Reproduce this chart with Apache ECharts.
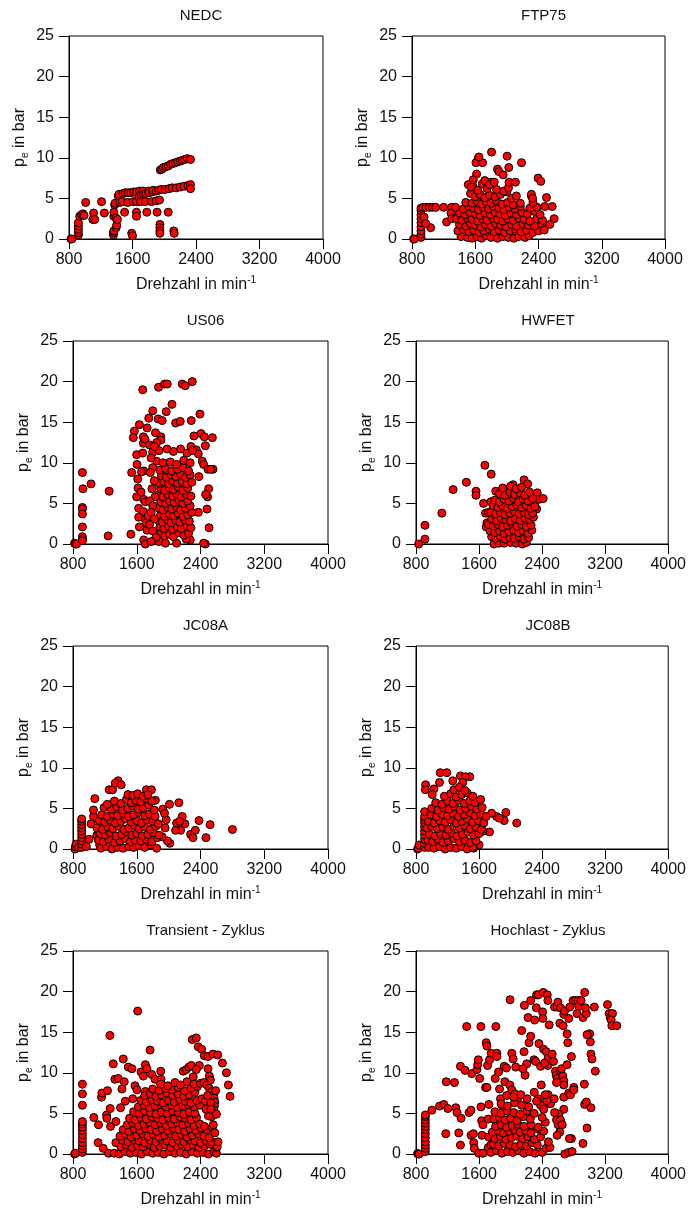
<!DOCTYPE html>
<html>
<head>
<meta charset="utf-8">
<script src="https://cdn.jsdelivr.net/npm/echarts@6/dist/echarts.min.js"></script>
<style>
  html, body { margin: 0; padding: 0; background: #fff; }
  #main { width: 689px; height: 1209px; }
</style>
</head>
<body>
<div id="main"></div>
<script>
// Achsen
var xTicks = [800, 1600, 2400, 3200, 4000];
var yTicks = [0, 5, 10, 15, 20, 25];
var titles = ['NEDC', 'FTP75', 'US06', 'HWFET', 'JC08A', 'JC08B', 'Transient - Zyklus', 'Hochlast - Zyklus'];

// Betriebspunkte [Drehzahl, pe]
var nedc = [
  [825,0],[835,0],[918,0.5],[918,0.8],[918,1.2],[918,1.6],[918,2.0],[935,2.8],[960,3.0],[975,3.1],[990,2.9],[1010,4.5],
  [1100,2.4],[1110,3.2],[1125,2.4],[1210,4.6],[1245,3.2],[1360,0.5],[1360,0.8],[1365,1.0],[1365,2.8],[1365,3.3],[1375,4.2],
  [1380,4.4],[1390,2.6],[1395,1.4],[1400,1.7],[1410,2.4],[1420,5.3],[1430,5.5],[1440,4.5],[1470,4.6],[1480,5.6],[1500,3.3],
  [1510,5.7],[1540,4.5],[1545,5.7],[1580,5.7],[1590,0.7],[1600,0.4],[1610,4.6],[1615,5.8],[1650,3.3],[1650,2.8],[1650,4.6],
  [1650,5.8],[1680,5.2],[1690,5.9],[1700,4.6],[1710,5.4],[1730,5.9],[1740,5.5],[1760,4.6],[1780,3.3],[1770,5.6],[1800,5.9],
  [1810,5.7],[1840,4.6],[1850,5.8],[1860,6.0],[1900,4.7],[1900,5.9],[1910,3.3],[1930,6.0],[1940,4.8],[1945,1.8],[1945,1.4],
  [1945,1.0],[1945,0.7],[1950,8.5],[1960,6.1],[1970,8.6],[1990,8.8],[2010,6.1],[2020,8.9],[2050,3.3],[2050,9.0],[2060,6.2],
  [2080,9.2],[2100,6.3],[2120,1.0],[2125,0.7],[2110,9.3],[2140,9.4],[2150,6.3],[2170,9.5],[2200,6.4],[2200,9.6],[2230,9.7],
  [2250,6.5],[2260,9.8],[2290,9.9],[2300,6.6],[2330,6.7],[2330,6.2],[2330,9.8]
];

var ftp75 = [
  [820,0],[830,0],[914,0.2],[914,0.6],[914,1.0],[914,1.5],[914,2.0],[914,2.5],[914,3.0],[914,3.5],[914,3.8],
  [940,3.9],[980,3.9],[1020,3.9],[1060,3.9],[1100,3.9],[1200,3.9],[1300,3.9],[1036,1.4],[952,2.7],[973,1.9],
  [1238,2.1],[1293,3.2],[1301,2.5],
  [1420,0.3],[1500,0.2],[1560,0.1],[1620,0.3],[1680,0.1],[1740,0.4],[1800,0.2],[1880,0.1],[1950,0.3],[2020,0.2],[2090,0.1],[2150,0.3],[2230,0.2],[2280,0.4],
  [1380,1.0],[1450,1.2],[1520,0.9],[1580,1.1],[1650,0.8],[1710,1.0],[1780,1.2],[1840,0.9],[1900,1.1],[1970,0.8],[2040,1.0],[2110,1.2],[2180,0.9],[2250,1.1],[2330,0.8],[2400,1.0],
  [1400,1.8],[1480,1.6],[1540,1.9],[1600,1.7],[1670,1.5],[1730,1.8],[1800,1.6],[1860,1.9],[1920,1.7],[1990,1.5],[2060,1.8],[2120,1.6],[2200,1.9],[2270,1.7],[2350,1.6],[2440,1.8],
  [1360,2.5],[1430,2.3],[1500,2.6],[1560,2.4],[1630,2.2],[1690,2.5],[1750,2.3],[1820,2.6],[1880,2.4],[1950,2.2],[2010,2.5],[2080,2.3],[2150,2.6],[2220,2.4],[2290,2.2],[2380,2.5],[2450,2.3],
  [1400,3.2],[1470,3.0],[1530,3.3],[1600,3.1],[1660,2.9],[1720,3.2],[1790,3.0],[1850,3.3],[1910,3.1],[1980,2.9],[2050,3.2],[2120,3.0],[2190,3.3],[2260,3.1],[2350,3.4],[2420,3.0],
  [1350,3.9],[1450,3.7],[1520,4.0],[1580,3.8],[1640,3.6],[1700,3.9],[1770,3.7],[1830,4.0],[1900,3.8],[1960,3.6],[2030,3.9],[2100,3.7],[2170,4.0],[2290,3.8],[2380,3.9],[2480,4.0],
  [1480,4.5],[1560,4.4],[1620,4.7],[1680,4.3],[1740,4.6],[1800,4.4],[1870,4.7],[1940,4.3],[2010,4.5],[2080,4.2],[2170,4.4],[2330,4.5],
  [1540,5.6],[1600,5.2],[1660,5.5],[1720,5.1],[1780,5.4],[1850,5.2],[1920,5.5],[2000,5.8],[2060,5.0],[2120,5.3],[2310,5.3],
  [1570,6.5],[1630,6.0],[1690,6.8],[1750,6.2],[1800,7.0],[1870,6.1],[1960,5.9],[2020,6.3],[1720,7.2],[1780,6.7],[1840,7.0],
  [1638,9.9],[1609,9.4],[1693,9.4],[1646,10.1],[1806,10.7],[1882,8.6],[1899,8.3],[1953,7.9],[2003,10.2],[2024,8.8],[2028,7.0],
  [2108,7.0],[2185,9.4],[2395,7.5],[2429,7.1],[2311,5.5],[2325,5.0],[2501,5.1],[2573,4.0],[2598,2.5],[2543,1.8],[2472,1.1],
  [1617,8.0],[1575,7.3],[1512,6.7],[1550,6.4]
];

var us06 = [
  [820,0.1],[830,0],[845,0],[918,8.8],[925,6.8],[918,4.5],[918,4.3],[918,3.7],[918,2.1],[918,0.9],[918,0.6],[918,0.4],
  [1027,7.4],[1254,6.5],[1241,1.0],[1527,1.2],
  [1675,19.0],[1873,19.3],[1948,19.7],[1982,19.7],[2171,19.7],[2209,19.5],[2297,20.0],[1801,16.4],[1751,15.5],[1869,15.4],
  [1919,15.2],[1970,16.3],[2042,17.2],[2088,14.9],[2146,15.1],[2284,15.2],[2393,16.0],[1633,14.7],[1570,13.9],[1557,13.1],
  [1683,13.2],[1730,14.3],[1835,13.7],[1903,13.2],[1903,12.8],[2318,13.3],[2406,13.6],[2448,13.2],[2461,12.1],[2549,13.1],
  [2280,12.0],[2347,11.6],[2372,11.1],
  [2422,10.2],[2439,9.8],[2494,9.2],[2557,9.2],[2530,9.2],[2380,8.3],[2502,6.8],[2489,5.8],[2465,6.1],[2481,4.3],[2372,3.9],
  [2507,2.0],[2461,0],[2439,0.1],[2271,0.5],[2212,0.9],
  [1599,11.0],[1603,9.8],[1536,8.8],[1612,8.0],[1616,6.9],[1599,5.8],[1624,4.4],[1624,3.3],[1633,2.1],[1675,11.2],[1683,12.4],
  [1704,12.9],[1687,9.0],[1660,8.9],[1654,6.4],[1687,5.5],[1708,5.2],[1683,4.0],[1708,3.0],[1687,0.5],[1708,0],[1729,1.7],
  [1720,2.6],[1742,3.5],
  [1880,0.3],[1960,0.1],[2100,0.1],[2220,0.6],
  [1900,1.3],[1950,1.0],[2010,1.2],[2060,0.9],[2130,1.4],[2190,1.1],[2250,1.3],
  [1890,2.1],[1940,1.9],[2000,2.2],[2050,1.8],[2110,2.1],[2160,1.9],[2230,2.2],[2280,2.0],
  [1870,2.9],[1920,2.7],[1980,3.0],[2030,2.6],[2090,2.9],[2140,2.7],[2200,3.0],[2260,2.8],
  [1900,3.6],[1950,3.4],[2010,3.7],[2060,3.5],[2120,3.8],[2180,3.4],[2240,3.6],[2290,3.9],
  [1880,4.4],[1930,4.2],[1990,4.5],[2040,4.3],[2100,4.6],[2150,4.2],[2210,4.4],[2270,4.7],
  [1900,5.2],[1960,5.0],[2010,5.3],[2070,5.1],[2130,5.4],[2180,5.0],[2240,5.3],
  [1870,6.0],[1930,5.8],[1990,6.1],[2050,5.9],[2100,6.2],[2160,5.8],[2220,6.1],[2280,5.9],
  [1900,6.8],[1950,6.6],[2010,6.9],[2060,6.7],[2120,7.0],[2180,6.6],[2240,6.9],
  [1880,7.5],[1940,7.7],[2000,7.4],[2050,7.8],[2110,7.5],[2170,7.7],[2230,7.4],[2290,7.6],
  [1910,8.4],[1970,8.2],[2030,8.5],[2090,8.3],[2150,8.6],[2210,8.2],[2270,8.5],
  [1890,9.1],[1960,9.3],[2040,9.0],[2110,9.2],[2180,9.4],[2250,9.0],
  [1850,10.2],[1930,10.0],[2020,10.1],[2100,9.8],[2190,10.3],[2270,10.0],
  [1800,11.3],[1880,11.5],[1980,11.7],[2060,11.4],[2150,11.7],[2230,11.2],[2300,11.5],
  [1760,12.2],[1780,10.6],[1800,9.4],[1770,8.8],[1820,7.8],[1790,6.8],[1830,5.8],[1760,5.3],[1800,4.7],[1780,3.9],[1820,3.1],
  [1760,2.4],[1800,1.6],[1840,0.8],[1780,0.3],[1850,12.5],[1820,12.0]
];

var hwfet = [
  [834,0],[914,0.6],[914,2.3],[1128,3.8],[1271,6.7],[1439,7.6],[1561,6.5],[1561,6.0],[1674,9.7],[1754,8.6],[1657,5.0],
  [1683,3.8],[1700,2.6],[1691,2.1],[1720,3.9],[1812,6.5],[1750,5.2],
  [2339,6.3],[2360,5.5],[2414,5.6],[2331,4.3],[2171,7.9],[2217,7.4],[2032,7.3],
  [1790,0.0],[1850,0.1],[1920,0.1],[2000,0.2],[2070,0.1],[2150,0.0],[2200,0.2],
  [1760,0.9],[1810,0.7],[1870,0.9],[1930,0.6],[1990,0.8],[2050,0.7],[2110,0.9],[2170,0.6],[2230,0.8],
  [1740,1.6],[1800,1.4],[1860,1.6],[1920,1.3],[1980,1.5],[2040,1.7],[2100,1.4],[2160,1.6],[2220,1.3],[2270,1.7],
  [1720,2.4],[1780,2.2],[1840,2.4],[1900,2.1],[1960,2.3],[2020,2.5],[2080,2.2],[2140,2.4],[2200,2.1],[2260,2.3],
  [1760,3.1],[1820,2.9],[1880,3.2],[1940,3.0],[2000,2.8],[2060,3.1],[2120,2.9],[2180,3.2],[2240,3.0],[2290,3.3],
  [1750,3.9],[1810,3.7],[1870,3.9],[1930,3.6],[1990,3.8],[2050,4.0],[2110,3.7],[2170,3.9],[2230,3.6],[2280,3.8],
  [1780,4.7],[1840,4.5],[1900,4.7],[1960,4.4],[2020,4.6],[2080,4.8],[2140,4.5],[2200,4.7],[2260,4.4],[2310,4.6],
  [1800,5.4],[1860,5.2],[1920,5.5],[1980,5.3],[2040,5.6],[2100,5.2],[2160,5.5],[2220,5.3],[2280,5.6],
  [1860,6.2],[1930,6.0],[1990,6.4],[2050,6.1],[2120,6.3],[2180,6.0],[2240,6.4],
  [1900,6.9],[2000,7.1],[2070,6.8],[2140,7.0]
];

var jc08a = [
  [825,0],[830,0.3],[840,0.6],[870,0.2],
  [909,0.2],[909,0.6],[909,1.0],[909,1.4],[909,1.8],[909,2.2],[909,2.6],[909,3.0],[909,3.4],[909,3.7],
  [968,0.3],[1002,1.2],[1027,3.1],[1057,4.0],[1074,6.2],[1057,4.8],[1099,1.7],[1128,2.0],[1120,1.1],[1149,0.3],[1135,0.5],
  [1254,7.3],[1296,7.3],[1367,8.4],[1330,8.1],[1405,7.9],[1721,7.3],[1784,7.3],[1834,6.0],[1927,4.9],[2011,5.5],[2129,5.7],
  [2171,4.0],[2204,3.1],[2150,2.3],[2087,2.3],[2276,1.8],[2305,1.4],[2335,2.3],[2381,3.5],[2469,1.4],[2520,3.0],[2801,2.4],
  [2015,0.7],[1985,1.0],[1918,1.5],[1956,2.6],[1969,3.6],[1948,4.4],[2100,3.2],[2137,3.4],
  [1150,0.1],[1220,0.3],[1290,0.0],[1360,0.2],[1430,0.1],[1500,0.3],[1560,0.2],[1630,0.4],[1700,0.2],[1780,0.5],[1850,0.1],
  [1120,1.1],[1180,0.9],[1250,1.2],[1320,0.8],[1390,1.0],[1450,1.3],[1520,0.9],[1580,1.1],[1650,1.0],[1720,1.2],[1790,0.9],[1860,1.4],
  [1140,1.9],[1210,1.7],[1270,2.0],[1340,1.6],[1410,1.8],[1470,2.1],[1540,1.7],[1600,1.9],[1670,1.6],[1740,1.8],[1810,2.0],[1880,1.7],
  [1100,2.6],[1170,2.4],[1240,2.7],[1300,2.5],[1370,2.8],[1440,2.4],[1500,2.6],[1570,2.9],[1630,2.5],[1700,2.7],[1770,2.4],[1840,2.8],
  [1130,3.5],[1200,3.3],[1260,3.6],[1330,3.2],[1400,3.4],[1460,3.7],[1530,3.3],[1600,3.5],[1660,3.2],[1730,3.6],[1800,3.4],[1870,3.1],
  [1160,4.2],[1230,4.0],[1300,4.3],[1360,4.1],[1430,4.4],[1500,4.0],[1560,4.2],[1630,4.5],[1700,4.1],[1760,4.3],[1830,4.0],
  [1190,5.1],[1280,4.9],[1350,5.2],[1420,4.8],[1490,5.0],[1550,5.3],[1620,4.9],[1680,5.1],[1750,5.4],[1820,4.8],
  [1230,5.5],[1320,5.9],[1400,5.6],[1470,6.1],[1530,5.7],[1590,6.0],[1650,5.8],[1720,6.2],[1790,5.9],
  [1490,6.7],[1550,6.6],[1610,6.8],[1680,6.5],[1740,6.7]
];

var jc08b = [
  [820,0],[830,0.1],[840,0.5],
  [909,0.2],[909,0.7],[909,1.2],[909,1.7],[909,2.2],[909,2.7],[909,3.2],[909,3.6],[909,4.0],[909,4.6],
  [922,7.9],[918,7.3],[1027,7.4],[1006,6.7],[1107,9.4],[1191,9.4],[1099,8.2],[1267,8.4],[1364,9.0],[1482,8.9],[1427,8.9],[1394,8.2],
  [1940,4.5],[1919,3.5],[2078,3.2],[1733,2.1],[1822,4.0],[1856,3.8],[1759,4.4],[1649,2.2],[1582,0.4],[1600,0.5],[1531,0.1],
  [960,0.2],[1030,0.1],[1100,0.3],[1170,0.0],[1240,0.2],[1310,0.1],[1380,0.3],[1450,0.0],[1520,0.2],
  [950,1.1],[1010,0.9],[1080,1.2],[1140,0.8],[1210,1.0],[1280,1.3],[1350,0.9],[1420,1.1],[1490,0.8],[1560,1.0],
  [970,1.8],[1040,1.6],[1110,1.9],[1180,1.7],[1250,2.0],[1320,1.6],[1390,1.8],[1460,2.1],[1530,1.7],[1600,1.9],
  [940,2.6],[1000,2.8],[1070,2.5],[1140,2.7],[1210,2.4],[1280,2.8],[1350,2.6],[1420,2.9],[1490,2.5],[1560,2.7],[1630,2.4],
  [960,3.4],[1030,3.2],[1100,3.5],[1170,3.3],[1240,3.6],[1310,3.2],[1380,3.4],[1450,3.7],[1520,3.3],[1590,3.5],[1660,3.2],
  [990,4.2],[1060,4.0],[1130,4.3],[1200,4.1],[1270,4.4],[1340,4.0],[1410,4.2],[1480,4.5],[1550,4.1],[1620,4.3],[1690,4.0],
  [1000,5.0],[1080,4.8],[1150,5.1],[1220,4.9],[1290,5.2],[1360,4.8],[1430,5.0],[1500,5.3],[1570,4.9],[1640,5.1],
  [1050,5.7],[1130,5.5],[1200,5.9],[1270,5.6],[1340,6.0],[1410,5.6],[1480,5.9],[1550,5.7],[1620,6.1],
  [1160,6.5],[1240,6.8],[1310,6.4],[1380,6.7],[1450,6.9],[1520,6.5],
  [1280,7.3],[1350,7.6],[1420,7.2]
];

var transient = [
  [820,0],[830,0.1],
  [918,0.2],[918,0.6],[918,1.0],[918,1.4],[918,1.9],[918,2.4],[918,2.9],[918,3.3],[918,3.7],[918,4.0],[918,6.0],[918,7.4],[918,8.6],
  [1061,4.5],[1120,3.6],[1115,1.4],[1158,7.0],[1162,7.5],[1179,0.7],[1233,7.8],[1221,4.8],[1225,4.4],[1263,14.6],[1267,5.6],
  [1271,3.4],[1246,0.1],[1305,11.1],[1326,9.2],[1368,9.3],[1338,4.0],[1338,1.4],[1317,0.1],[1397,5.7],[1414,8.0],[1431,11.7],
  [1443,8.9],[1456,6.5],[1494,10.7],[1540,10.5],[1549,6.8],[1578,8.4],[1603,7.9],[1612,17.6],[1654,10.1],[1683,9.6],[1708,11.0],
  [1729,10.5],[1708,7.7],[1767,12.8],[1788,9.8],[1830,9.2],[1901,10.2],[1905,9.2],
  [2183,10.2],[2221,10.4],[2255,10.7],[2284,10.9],[2297,14.1],[2347,14.3],[2309,9.5],[2372,13.2],[2414,12.9],[2385,10.9],
  [2347,10.4],[2448,12.1],[2494,12.0],[2557,12.3],[2616,12.2],[2675,11.2],[2725,10.0],[2750,8.5],[2771,7.1],[2494,10.5],
  [2511,9.6],[2524,9.1],
  [1380,0.0],[1450,0.3],[1520,0.1],[1590,0.2],[1660,0.0],[1730,0.3],[1800,0.1],[1870,0.2],[1940,0.0],[2010,0.3],[2080,0.1],
  [2150,0.2],[2220,0.0],[2290,0.3],[2360,0.1],[2430,0.2],[2500,0.0],[2570,0.3],[2600,0.1],
  [1400,0.9],[1470,1.1],[1540,0.8],[1610,1.0],[1680,0.9],[1750,1.2],[1820,0.8],[1890,1.0],[1960,1.1],[2030,0.8],[2100,1.0],
  [2170,1.2],[2240,0.9],[2310,1.1],[2380,0.8],[2450,1.0],[2520,1.2],[2600,0.8],
  [1420,1.7],[1490,1.5],[1560,1.8],[1630,1.6],[1700,1.4],[1770,1.7],[1840,1.5],[1910,1.8],[1980,1.6],[2050,1.4],[2120,1.7],
  [2190,1.5],[2260,1.8],[2330,1.6],[2400,1.4],[2470,1.7],[2540,1.5],
  [1390,2.2],[1460,2.4],[1530,2.1],[1600,2.3],[1670,2.5],[1740,2.2],[1810,2.4],[1880,2.1],[1950,2.3],[2020,2.5],[2090,2.2],
  [2160,2.4],[2230,2.1],[2300,2.3],[2370,2.5],[2440,2.2],[2510,2.0],
  [1430,3.0],[1500,2.8],[1570,3.1],[1640,2.9],[1710,3.2],[1780,3.0],[1850,2.8],[1920,3.1],[1990,2.9],[2060,3.2],[2130,3.0],
  [2200,2.8],[2270,3.1],[2340,2.9],[2410,3.2],[2480,3.0],[2550,3.3],
  [1480,3.6],[1550,3.8],[1620,3.5],[1690,3.7],[1760,3.9],[1830,3.6],[1900,3.8],[1970,3.5],[2040,3.7],[2110,3.9],[2180,3.6],
  [2250,3.8],[2320,3.5],[2390,3.7],[2450,3.4],
  [1510,4.4],[1580,4.2],[1650,4.5],[1720,4.3],[1790,4.6],[1860,4.4],[1930,4.2],[2000,4.5],[2070,4.3],[2140,4.6],[2210,4.4],
  [2280,4.2],[2350,4.5],
  [1560,5.2],[1630,5.0],[1700,5.3],[1770,5.1],[1840,4.9],[1910,5.2],[1980,5.0],[2050,5.3],[2120,5.1],[2190,4.9],[2260,5.2],[2330,5.0],
  [1620,5.8],[1690,6.0],[1760,5.7],[1830,5.9],[1900,6.1],[1970,5.8],[2040,6.0],[2110,5.7],[2180,5.9],[2250,6.1],[2320,5.8],[2390,6.0],
  [1650,6.6],[1720,6.4],[1790,6.7],[1860,6.5],[1930,6.3],[2000,6.6],[2070,6.4],[2140,6.7],[2210,6.5],[2280,6.3],[2350,6.6],[2420,6.8],
  [1700,7.2],[1770,7.4],[1840,7.1],[1910,7.3],[1980,7.5],[2050,7.2],[2120,7.4],[2190,7.1],[2260,7.3],[2330,7.6],
  [1800,8.0],[1880,7.8],[1960,8.1],[2040,7.9],[2120,8.2],[2200,7.8],[2280,8.1],[2360,8.3],
  [1900,8.6],[1990,8.4],[2080,8.8],[2150,8.5],[2230,8.9],[2320,8.6],
  [2400,8.7],[2440,8.8],[2480,8.5],[2510,8.1],[2540,7.7],[2560,7.3],[2570,6.9],[2580,6.4],[2575,5.9],[2570,5.4],[2560,5.0],
  [2540,4.6],[2500,4.7],[2470,5.5],[2460,6.5],[2490,7.2],[2530,6.3],[2530,5.5],[2600,4.9],[2590,7.8],[2610,0.9],[2620,1.5],
  [2580,2.6],[2560,3.6]
];

var hochlast = [
  [820,0.05],[830,0],[840,0],
  [918,0.3],[918,0.7],[918,1.1],[918,1.5],[918,2.0],[918,2.5],[918,3.0],[918,3.4],[918,3.8],[918,4.2],[918,4.6],[918,4.8],
  [1002,5.4],[1099,5.9],[1153,6.1],[1204,5.6],[1178,2.5],[1183,8.9],[1288,8.8],[1305,5.7],[1321,5.1],[1343,2.6],[1364,1.1],
  [1372,4.4],[1364,10.8],[1422,10.3],[1443,15.7],[1473,5.1],[1498,5.4],[1507,9.9],[1498,2.3],[1532,1.4],[1540,0.7],[1528,2.5],
  [1574,10.4],[1582,11.0],[1591,11.6],[1608,9.3],[1624,15.7],[1595,0.1],[1624,5.8],[1633,4.1],[1650,3.6],[1637,2.3],[1650,0.1],
  [1683,8.2],[1700,8.2],[1691,13.7],[1700,13.3],[1708,10.9],[1733,11.6],[1754,12.4],[1725,6.1],[1717,4.3],[1721,2.1],[1717,0.8],
  [1750,1.1],[1813,15.7],[1826,12.4],[1826,12.0],[1805,9.3],[1847,10.1],[1860,8.0],[1872,6.8],[1889,6.0],
  [1994,19.0],[2015,12.4],[2032,11.7],[2066,10.7],[1919,10.8],[1948,10.6],[1927,8.9],[1990,8.5],[2015,7.9],[2057,7.4],[2087,6.8],
  [2141,15.2],[2175,18.3],[2221,16.8],[2234,13.7],[2171,12.6],[2184,9.7],[2205,11.1],[2158,10.5],[2255,18.9],[2255,14.5],
  [2305,16.5],[2330,19.6],[2351,19.6],[2326,18.0],[2297,11.6],[2318,11.4],[2360,13.6],[2381,10.8],[2389,8.5],[2351,6.8],
  [2381,6.0],[2406,17.5],[2410,16.7],[2414,19.9],[2465,19.6],[2419,12.9],[2452,12.6],[2477,11.8],[2473,10.9],[2431,11.2],
  [2473,18.9],[2490,15.9],[2477,7.3],[2470,6.2],[2507,6.2],[2528,12.3],[2545,11.4],[2553,6.8],[2558,18.1],[2591,18.1],
  [2600,18.7],[2625,16.1],[2633,18.0],[2667,15.8],[2675,17.2],[2684,17.6],[2570,10.2],[2579,9.7],[2591,9.3],[2583,8.8],
  [2633,10.2],[2663,9.6],[2675,9.0],[2675,8.5],[2675,7.0],[2675,5.5],[2646,10.5],[2717,14.8],[2726,13.7],[2738,16.7],
  [2751,18.1],[2772,12.0],[2717,11.0],[2738,7.5],[2760,7.3],[2802,8.2],[2802,7.9],[2793,18.9],[2822,18.9],[2856,18.9],
  [2864,18.2],[2894,18.9],[2843,17.3],[2919,16.8],[2940,19.9],[2961,17.3],[2949,18.0],[2936,8.6],[2940,6.1],[2961,6.4],
  [2919,1.3],[2970,3.2],[3003,14.8],[3012,13.8],[3020,12.3],[3033,11.7],[3020,5.7],[3075,10.2],[3062,18.1],[3230,18.4],
  [3251,17.3],[3264,16.8],[3293,17.3],[3276,16.5],[3285,15.8],[3348,15.8],[2970,14.7],
  [2688,0],[2738,0.2],[2780,0.3],[2772,1.9],[2747,1.9],[2625,2.7],[2591,2.3],[2612,4.9],[2604,3.6],[2558,5.1],[2583,4.2],
  [2633,4.2],[2655,3.6],
  [1750,0.2],[1820,0.4],[1890,0.1],[1960,0.3],[2030,0.2],[2100,0.4],[2170,0.1],[2240,0.3],[2310,0.1],[2400,0.2],[2450,0.7],[2500,0.8],
  [1780,1.2],[1850,1.0],[1920,1.3],[1990,1.1],[2060,0.9],[2130,1.2],[2200,1.0],[2270,1.4],[2340,1.1],[2480,1.5],
  [1800,1.9],[1870,2.1],[1940,1.8],[2010,2.0],[2080,2.2],[2150,1.9],[2220,2.1],[2300,1.8],[2380,2.1],
  [1770,2.7],[1840,2.9],[1910,2.6],[1980,2.8],[2050,3.0],[2120,2.7],[2190,2.9],[2260,2.6],[2340,3.1],[2420,2.8],
  [1810,3.4],[1880,3.6],[1950,3.3],[2020,3.5],[2090,3.7],[2170,3.4],[2260,3.6],[2350,3.3],[2440,3.9],
  [1790,4.3],[1860,4.5],[1930,4.2],[2000,4.4],[2080,4.1],[2160,4.6],[2250,4.3],[2400,4.5],
  [1800,5.2],[1880,5.0],[1960,5.3],[2040,5.1],[2120,4.9],[2210,5.3],[2300,5.0],[2420,5.5],
  [1880,6.2],[1960,5.9],[2050,6.3],[2140,6.0],[2230,5.8],[2330,6.5],[2460,6.6],
  [1950,7.2],[2040,7.0],[2130,7.3],[2210,6.8],[2300,7.6],[2440,7.3]
];

var seriesData = [nedc, ftp75, us06, hwfet, jc08a, jc08b, transient, hochlast];

// Gitterpositionen [left, top, width, height]
var boxes = [
  [69, 36, 254, 203], [412, 36, 253, 203],
  [73, 341, 255, 203], [416, 341, 254, 203],
  [73, 646, 255, 203], [416, 646, 254, 203],
  [73, 951, 255, 203], [416, 951, 254, 203]
];

var font = '"Liberation Sans", Arial, sans-serif';
var grids = [], xAxes = [], yAxes = [], series = [], titleList = [];

boxes.forEach(function (b, i) {
  grids.push({
    left: b[0], top: b[1], width: b[2], height: b[3],
    show: true, borderColor: '#000', borderWidth: 1, backgroundColor: 'transparent'
  });
  titleList.push({
    text: titles[i],
    left: b[0] + b[2] / 2,
    top: b[1] - 33,
    textAlign: 'center',
    textStyle: { fontFamily: font, fontSize: 15, fontWeight: 'normal', color: '#111' }
  });
  xAxes.push({
    type: 'value', gridIndex: i,
    min: xTicks[0], max: xTicks[xTicks.length - 1], interval: xTicks[1] - xTicks[0],
    name: '{n|Drehzahl in min}{s|-1}',
    nameLocation: 'middle', nameGap: 36,
    nameTextStyle: {
      rich: {
        n: { fontFamily: font, fontSize: 16, color: '#111', lineHeight: 20, verticalAlign: 'middle' },
        s: { fontFamily: font, fontSize: 10, color: '#111', lineHeight: 12, verticalAlign: 'top' }
      }
    },
    axisLine: { show: true, lineStyle: { color: '#000', width: 1 } },
    axisTick: { show: true, inside: false, length: 10, lineStyle: { color: '#000' } },
    axisLabel: {
      fontFamily: font, fontSize: 16, color: '#111', margin: 13,
      formatter: function (v) { return String(v); }
    },
    splitLine: { show: false }
  });
  yAxes.push({
    type: 'value', gridIndex: i,
    min: yTicks[0], max: yTicks[yTicks.length - 1], interval: yTicks[1] - yTicks[0],
    name: '{n|p}{s|e}{n| in bar}',
    nameLocation: 'middle', nameGap: 39,
    nameTextStyle: {
      rich: {
        n: { fontFamily: font, fontSize: 16, color: '#111', lineHeight: 20, verticalAlign: 'middle' },
        s: { fontFamily: font, fontSize: 10, color: '#111', lineHeight: 12, verticalAlign: 'bottom' }
      }
    },
    axisLine: { show: true, lineStyle: { color: '#000', width: 1 } },
    axisTick: { show: true, inside: false, length: 10, lineStyle: { color: '#000' } },
    axisLabel: { fontFamily: font, fontSize: 16, color: '#111', margin: 15 },
    splitLine: { show: false }
  });
  series.push({
    type: 'scatter', xAxisIndex: i, yAxisIndex: i,
    data: seriesData[i],
    symbol: 'circle', symbolSize: 8,
    itemStyle: { color: '#ff0000', borderColor: '#000', borderWidth: 1, opacity: 1 },
    emphasis: { disabled: true }
  });
});

var myChart = echarts.init(document.getElementById('main'));
myChart.setOption({
  animation: false,
  backgroundColor: '#fff',
  title: titleList,
  grid: grids,
  xAxis: xAxes,
  yAxis: yAxes,
  series: series
});
</script>
</body>
</html>
